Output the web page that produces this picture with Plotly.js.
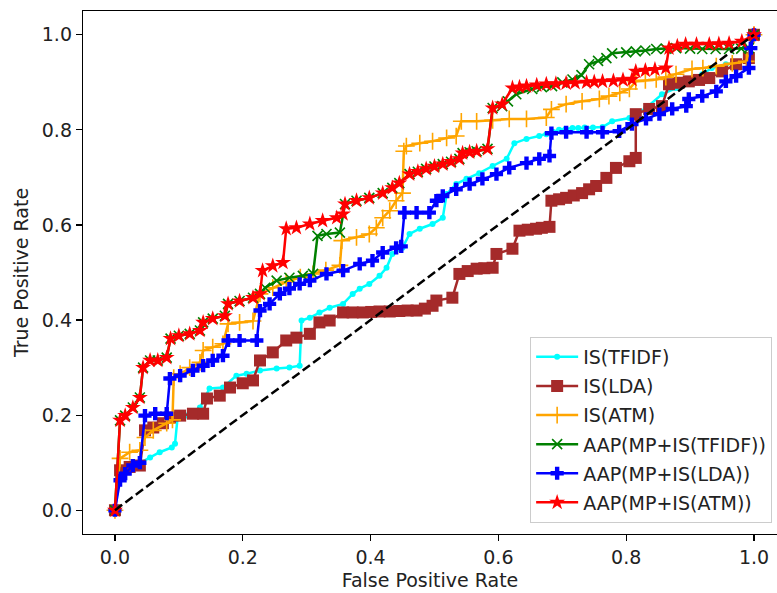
<!DOCTYPE html>
<html>
<head>
<meta charset="utf-8">
<script src="https://cdn.plot.ly/plotly-3.0.1.min.js"></script>
<style>html,body{margin:0;padding:0;background:#fff;}#chart{width:777px;height:593px;}</style>
</head>
<body>
<div id="chart"></div>
<script>
// ---- data ----
const seriesNames = ["IS(TFIDF)", "IS(LDA)", "IS(ATM)", "AAP(MP+IS(TFIDF))", "AAP(MP+IS(LDA))", "AAP(MP+IS(ATM))"];

const fprTfidf = [0,0.005,0.013,0.023,0.039,0.055,0.07,0.089,0.094,0.098,0.112,0.133,0.148,0.169,0.19,0.206,0.227,0.253,0.273,0.289,0.292,0.305,0.32,0.336,0.357,0.372,0.383,0.398,0.414,0.425,0.434,0.45,0.461,0.477,0.497,0.513,0.519,0.534,0.55,0.57,0.591,0.613,0.625,0.644,0.664,0.675,0.685,0.695,0.705,0.716,0.725,0.735,0.748,0.763,0.778,0.805,0.831,0.856,0.878,0.9,0.919,0.934,0.956,0.972,0.99,1.0];
const tprTfidf = [0,0.07,0.08,0.091,0.099,0.111,0.122,0.132,0.14,0.195,0.199,0.216,0.256,0.258,0.283,0.287,0.294,0.298,0.30,0.304,0.399,0.405,0.416,0.426,0.434,0.455,0.466,0.476,0.493,0.51,0.539,0.552,0.581,0.592,0.602,0.615,0.665,0.686,0.697,0.709,0.724,0.739,0.772,0.781,0.787,0.791,0.796,0.80,0.802,0.804,0.804,0.805,0.805,0.806,0.818,0.825,0.846,0.875,0.888,0.90,0.917,0.93,0.938,0.94,0.945,1.0];

const fprLda = [0,0.008,0.023,0.039,0.047,0.06,0.075,0.086,0.102,0.122,0.138,0.144,0.164,0.18,0.2,0.216,0.227,0.247,0.268,0.284,0.305,0.32,0.336,0.357,0.372,0.388,0.401,0.414,0.43,0.445,0.458,0.472,0.485,0.497,0.503,0.528,0.539,0.552,0.566,0.578,0.591,0.597,0.622,0.633,0.646,0.659,0.668,0.68,0.683,0.695,0.706,0.718,0.731,0.742,0.753,0.769,0.784,0.805,0.815,0.815,0.836,0.856,0.867,0.882,0.898,0.914,0.93,0.95,0.972,0.992,1.0];
const tprLda = [0,0.084,0.091,0.094,0.168,0.174,0.183,0.195,0.199,0.203,0.203,0.235,0.241,0.258,0.267,0.273,0.315,0.332,0.357,0.363,0.371,0.395,0.399,0.416,0.416,0.416,0.417,0.418,0.418,0.419,0.42,0.42,0.424,0.43,0.441,0.447,0.497,0.503,0.508,0.509,0.51,0.539,0.55,0.588,0.59,0.592,0.594,0.596,0.651,0.654,0.657,0.662,0.667,0.675,0.682,0.699,0.72,0.734,0.741,0.833,0.844,0.85,0.896,0.899,0.902,0.905,0.909,0.923,0.938,0.951,1.0];

const fprAtm = [0,0.008,0.023,0.039,0.047,0.06,0.081,0.09,0.092,0.102,0.117,0.133,0.138,0.153,0.169,0.177,0.195,0.216,0.227,0.247,0.268,0.29,0.31,0.33,0.352,0.355,0.378,0.398,0.409,0.419,0.43,0.44,0.45,0.452,0.456,0.477,0.497,0.519,0.534,0.542,0.566,0.591,0.617,0.644,0.675,0.683,0.706,0.731,0.758,0.773,0.79,0.805,0.815,0.83,0.847,0.862,0.878,0.903,0.92,0.941,0.966,0.988,1.0];
const tprAtm = [0,0.109,0.122,0.126,0.153,0.168,0.183,0.19,0.279,0.287,0.30,0.311,0.336,0.343,0.35,0.392,0.395,0.398,0.455,0.468,0.48,0.49,0.497,0.505,0.515,0.567,0.574,0.581,0.594,0.615,0.63,0.651,0.667,0.755,0.766,0.772,0.776,0.783,0.787,0.818,0.818,0.82,0.823,0.823,0.826,0.843,0.854,0.86,0.865,0.871,0.878,0.886,0.902,0.904,0.906,0.911,0.917,0.928,0.93,0.934,0.94,0.944,1.0];

const fprAapTfidf = [0,0.008,0.016,0.028,0.039,0.044,0.055,0.067,0.081,0.087,0.10,0.117,0.133,0.138,0.153,0.172,0.177,0.195,0.216,0.227,0.235,0.253,0.273,0.294,0.31,0.317,0.331,0.352,0.36,0.378,0.398,0.419,0.434,0.445,0.461,0.474,0.487,0.50,0.513,0.526,0.539,0.544,0.555,0.566,0.583,0.591,0.606,0.615,0.628,0.653,0.668,0.684,0.70,0.716,0.73,0.742,0.756,0.769,0.778,0.80,0.815,0.83,0.847,0.862,0.878,0.90,0.919,0.94,0.961,0.98,0.992,1.0];
const tprAapTfidf = [0,0.189,0.199,0.216,0.237,0.30,0.315,0.315,0.321,0.361,0.367,0.371,0.378,0.395,0.403,0.409,0.434,0.44,0.447,0.455,0.468,0.483,0.489,0.493,0.497,0.577,0.581,0.584,0.644,0.651,0.657,0.667,0.678,0.688,0.707,0.712,0.718,0.723,0.728,0.733,0.739,0.751,0.753,0.755,0.76,0.846,0.85,0.86,0.875,0.886,0.89,0.892,0.90,0.906,0.915,0.938,0.945,0.951,0.961,0.963,0.965,0.967,0.97,0.971,0.972,0.971,0.97,0.97,0.97,0.971,0.972,1.0];

const fprAapLda = [0,0.008,0.016,0.028,0.039,0.047,0.063,0.081,0.086,0.102,0.122,0.138,0.153,0.169,0.177,0.195,0.222,0.227,0.242,0.258,0.273,0.289,0.305,0.331,0.357,0.383,0.403,0.419,0.44,0.448,0.453,0.472,0.492,0.503,0.513,0.534,0.555,0.575,0.597,0.617,0.644,0.664,0.68,0.683,0.706,0.738,0.763,0.789,0.809,0.831,0.852,0.872,0.894,0.898,0.919,0.941,0.956,0.972,0.992,0.995,1.0];
const tprAapLda = [0,0.063,0.077,0.094,0.10,0.199,0.203,0.203,0.277,0.283,0.294,0.304,0.315,0.325,0.357,0.357,0.357,0.42,0.434,0.455,0.466,0.476,0.483,0.497,0.504,0.518,0.525,0.542,0.552,0.555,0.626,0.626,0.626,0.651,0.661,0.675,0.686,0.697,0.707,0.72,0.73,0.739,0.745,0.793,0.795,0.795,0.795,0.797,0.812,0.823,0.833,0.844,0.85,0.865,0.871,0.881,0.902,0.913,0.93,0.972,1.0];

const fprAapAtm = [0,0.008,0.016,0.028,0.039,0.044,0.055,0.067,0.081,0.087,0.10,0.117,0.133,0.138,0.153,0.172,0.177,0.195,0.216,0.227,0.231,0.247,0.263,0.268,0.284,0.305,0.325,0.347,0.357,0.36,0.378,0.398,0.419,0.434,0.445,0.461,0.474,0.487,0.50,0.513,0.526,0.539,0.544,0.555,0.566,0.583,0.591,0.606,0.622,0.633,0.644,0.66,0.675,0.69,0.706,0.72,0.738,0.75,0.763,0.78,0.795,0.809,0.815,0.83,0.845,0.862,0.867,0.88,0.893,0.91,0.93,0.945,0.961,0.981,1.0];
const tprAapAtm = [0,0.189,0.199,0.216,0.237,0.30,0.315,0.315,0.321,0.361,0.367,0.371,0.378,0.395,0.403,0.409,0.434,0.44,0.447,0.455,0.504,0.514,0.521,0.592,0.594,0.602,0.609,0.615,0.623,0.644,0.651,0.657,0.667,0.678,0.688,0.707,0.712,0.718,0.723,0.728,0.733,0.739,0.751,0.753,0.755,0.76,0.846,0.854,0.888,0.89,0.892,0.894,0.896,0.897,0.898,0.899,0.90,0.901,0.902,0.903,0.905,0.906,0.923,0.925,0.927,0.93,0.972,0.976,0.98,0.98,0.98,0.981,0.982,0.986,1.0];

const chanceX = [0, 1];
const chanceY = [0, 1];

const xTickVals = [0, 0.2, 0.4, 0.6, 0.8, 1.0];
const xTickText = ["0.0", "0.2", "0.4", "0.6", "0.8", "1.0"];
const yTickVals = [0, 0.2, 0.4, 0.6, 0.8, 1.0];
const yTickText = ["0.0", "0.2", "0.4", "0.6", "0.8", "1.0"];

// ---- styling ----
const FONT = "DejaVu Sans, sans-serif";
const FS = 19;
const LW = 2.5;

function curve(x, y, name, color, marker, group) {
  return {
    type: "scatter", mode: "lines+markers", x: x, y: y, name: name,
    legendgroup: group,
    line: {color: color, width: LW},
    marker: Object.assign({color: color}, marker),
    hoverinfo: "skip"
  };
}

const traces = [
  curve(fprTfidf, tprTfidf, seriesNames[0], "#00ffff", {symbol: "circle", size: 6, line: {width: 0}}, "g1"),
  curve(fprLda, tprLda, seriesNames[1], "#a52a2a", {symbol: "square", size: 12, line: {width: 0}}, "g2"),
  curve(fprAtm, tprAtm, seriesNames[2], "#ffa500", {symbol: "cross-thin", size: 12, line: {width: 1.6, color: "#ffa500"}}, "g3"),
  curve(fprAapTfidf, tprAapTfidf, seriesNames[3], "#008000", {symbol: "x-thin", size: 10, line: {width: 1.6, color: "#008000"}}, "g4"),
  curve(fprAapLda, tprAapLda, seriesNames[4], "#0000ff", {symbol: "cross", size: 11, line: {width: 0}}, "g5"),
  curve(fprAapAtm, tprAapAtm, seriesNames[5], "#ff0000", {symbol: "star", size: 12, line: {width: 0}}, "g6"),
  {type: "scatter", mode: "lines", x: chanceX, y: chanceY, showlegend: false,
   line: {color: "#000000", width: 2.5, dash: "9px,4px"}, hoverinfo: "skip"}
];

const layout = {
  width: 777, height: 593,
  margin: {l: 83, r: 0, t: 11, b: 59},
  paper_bgcolor: "#ffffff", plot_bgcolor: "#ffffff",
  font: {family: FONT, size: FS, color: "#000000"},
  showlegend: true,
  legend: {
    x: 0.993, y: 0.021, xanchor: "right", yanchor: "bottom",
    bgcolor: "rgba(255,255,255,0.8)", bordercolor: "#cccccc", borderwidth: 1,
    font: {family: FONT, size: FS, color: "#222222"},
    traceorder: "grouped", tracegroupgap: 1.4, itemwidth: 42
  },
  xaxis: {
    range: [-0.05, 1.036], tickvals: xTickVals, ticktext: xTickText,
    showgrid: false, zeroline: false, showline: true, mirror: true,
    linecolor: "#000000", linewidth: 1.2, ticks: "outside", ticklen: 6, tickwidth: 1.2, tickcolor: "#000000",
    tickfont: {family: FONT, size: FS, color: "#222222"},
    title: {text: "False Positive Rate", font: {family: FONT, size: FS, color: "#222222"}, standoff: 6}
  },
  yaxis: {
    range: [-0.05, 1.05], tickvals: yTickVals, ticktext: yTickText,
    showgrid: false, zeroline: false, showline: true, mirror: true,
    linecolor: "#000000", linewidth: 1.2, ticks: "outside", ticklen: 6, tickwidth: 1.2, tickcolor: "#000000",
    tickfont: {family: FONT, size: FS, color: "#222222"},
    title: {text: "True Positive Rate", font: {family: FONT, size: FS, color: "#222222"}, standoff: 8}
  }
};

Plotly.newPlot("chart", traces, layout, {staticPlot: true, displayModeBar: false});
</script>
</body>
</html>
